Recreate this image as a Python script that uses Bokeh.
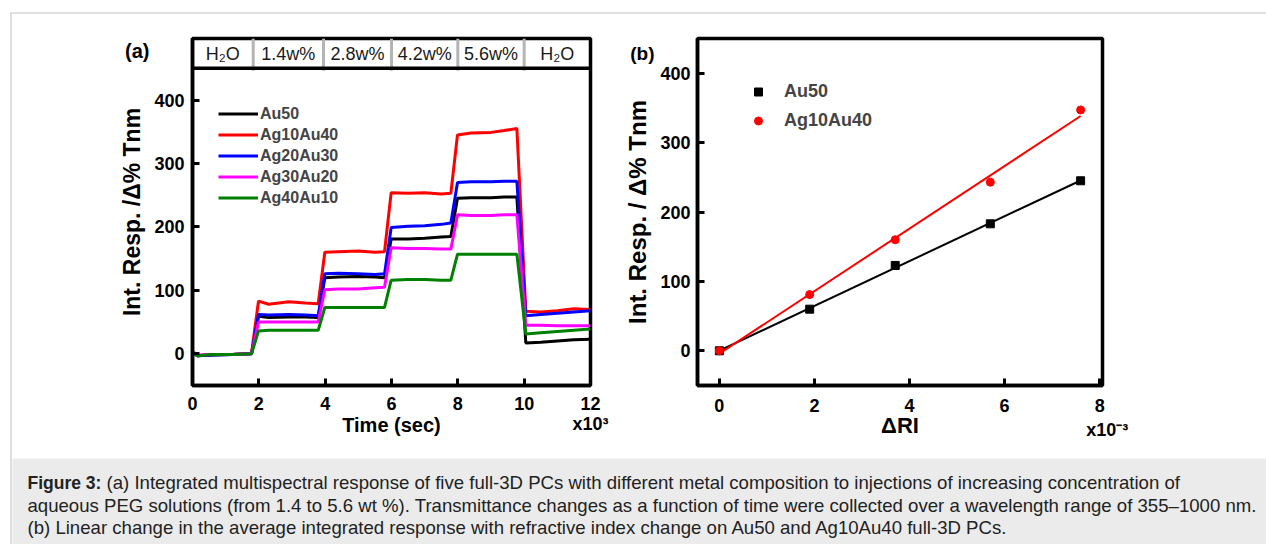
import numpy as np
from bokeh.plotting import figure
from bokeh.models import (Range1d, Label, Legend, LegendItem, FixedTicker, Div, Spacer, Span,
                          LinearAxis)
from bokeh.layouts import row, column
from bokeh.embed import file_html
from bokeh.resources import INLINE
from bokeh.core.properties import value

FONT = "Liberation Sans"
NB = "\u00a0"

# ---------------- Panel (a) data ----------------
time_s = [0, 150, 600, 1200, 1780, 1990, 2300, 2900, 3400, 3790, 3990, 4400, 5000, 5500,
          5790, 5990, 6500, 7000, 7500, 7790, 7990, 8400, 9000, 9400, 9780, 10050, 10500,
          11000, 11500, 12000]
au50 = [3, -3, -2, -1, 0, 59, 57, 58, 58, 57, 120, 121, 122, 121, 120, 181, 181, 182, 184, 185,
        245, 246, 246, 247, 247, 17, 18, 20, 22, 23]
ag10au40 = [4, -3, -1, -1, 1, 83, 78, 82, 80, 79, 160, 161, 162, 160, 161, 254, 253, 254, 252, 253,
            345, 348, 349, 352, 355, 67, 66, 68, 71, 70]
ag20au30 = [2, -3, -2, -1, 0, 62, 61, 62, 61, 60, 126, 127, 126, 125, 126, 199, 201, 202, 204, 206,
            270, 271, 271, 272, 272, 60, 62, 64, 66, 68]
ag30au20 = [3, -2, -1, -1, 0, 50, 50, 50, 50, 50, 101, 102, 102, 104, 105, 167, 166, 166, 165, 165,
            219, 218, 218, 219, 219, 45, 45, 44, 44, 44]
ag40au10 = [3, -3, -1, -1, 0, 36, 37, 37, 37, 37, 73, 73, 73, 73, 73, 116, 117, 117, 116, 116,
            157, 157, 157, 157, 157, 31, 33, 35, 37, 39]

series_names = ["Au50", "Ag10Au40", "Ag20Au30", "Ag30Au20", "Ag40Au10"]
series_values = [au50, ag10au40, ag20au30, ag30au20, ag40au10]
series_colors = ["#000000", "#ff0000", "#0000ff", "#ff00ff", "#008000"]

bar_edges = [0, 1830, 3950, 6000, 8000, 10000, 12000]
bar_labels = ["H\u2082O", "1.4w%", "2.8w%", "4.2w%", "5.6w%", "H\u2082O"]

x_ticks_a = [0, 2000, 4000, 6000, 8000, 10000, 12000]
x_tick_labels_a = ["0", "2", "4", "6", "8", "10", "12\nx10\u00b3"]
y_ticks = [0, 100, 200, 300, 400]

# ---------------- Panel (b) data ----------------
delta_ri = [0, 1.9, 3.7, 5.7, 7.6]
resp_au50 = [0, 60, 123, 183, 245]
resp_ag10au40 = [0, 81, 160, 243, 347]
x_ticks_b = [0, 2, 4, 6, 8]
x_tick_labels_b = ["0", "2", "4", "6", "8\n" + NB * 3 + "x10\u207b\u00b3"]

caption_bold = "Figure 3:"
caption_lines = [
    "(a) Integrated multispectral response of five full-3D PCs with different metal composition to injections of increasing concentration of",
    "aqueous PEG solutions (from 1.4 to 5.6 wt %). Transmittance changes as a function of time were collected over a wavelength range of 355\u20131000 nm.",
    "(b) Linear change in the average integrated response with refractive index change on Au50 and Ag10Au40 full-3D PCs.",
]


def style_axis(ax, label_size="18px"):
    ax.axis_line_width = 3.5
    ax.axis_line_color = "black"
    ax.major_tick_in = 7
    ax.major_tick_out = 0
    ax.minor_tick_in = 0
    ax.minor_tick_out = 0
    ax.major_tick_line_width = 3
    ax.major_label_text_font = FONT
    ax.major_label_text_font_style = "bold"
    ax.major_label_text_font_size = label_size
    ax.major_label_text_color = "black"
    ax.axis_label_text_font = FONT
    ax.axis_label_text_font_style = "bold"
    ax.axis_label_text_color = "black"


def style(p):
    p.outline_line_color = "black"
    p.outline_line_width = 3.5
    p.xgrid.visible = False
    p.ygrid.visible = False
    for ax in list(p.xaxis) + list(p.yaxis):
        style_axis(ax)


def panel_tag(p, y_pos, tag, size, standoff):
    """Panel letter drawn as the only tick label of an extra, bare left axis."""
    ax = LinearAxis(ticker=FixedTicker(ticks=[y_pos]), major_label_overrides={y_pos: tag})
    ax.axis_line_color = None
    ax.major_tick_line_color = None
    ax.minor_tick_line_color = None
    ax.major_label_text_font = FONT
    ax.major_label_text_font_style = "bold"
    ax.major_label_text_font_size = size
    ax.major_label_text_color = "black"
    ax.major_label_standoff = standoff
    p.add_layout(ax, "left")


# ---------------- Figure (a) ----------------
p_a = figure(width=608, height=444, x_range=Range1d(0, 12000), y_range=Range1d(-50, 497),
             output_backend="svg", toolbar_location=None, title=None,
             min_border_left=180, min_border_right=30, min_border_top=21, min_border_bottom=73)
style(p_a)
p_a.xaxis.ticker = FixedTicker(ticks=x_ticks_a)
p_a.xaxis.major_label_overrides = dict(zip(x_ticks_a, x_tick_labels_a))
p_a.xaxis.major_label_text_line_height = 1.0
p_a.yaxis.ticker = FixedTicker(ticks=y_ticks)
p_a.xaxis.axis_label = "Time (sec)"
p_a.xaxis.axis_label_text_font_size = "20px"
p_a.yaxis.axis_label = "Int. Resp. /\u0394% Tnm"
p_a.yaxis.axis_label_text_font_size = "23px"
p_a.xaxis.major_label_standoff = 8
p_a.yaxis.major_label_standoff = 8
p_a.xaxis.axis_label_standoff = -23
p_a.yaxis.axis_label_standoff = 6

items = []
for name, vals, col in zip(series_names, series_values, series_colors):
    r = p_a.line(time_s, vals, line_color=col, line_width=3)
    items.append(LegendItem(label=name, renderers=[r]))

# composition bar on top of panel (a)
p_a.add_layout(Span(location=450, dimension="width", line_color="black", line_width=3.5))
p_a.segment(x0=bar_edges[1:-1], y0=[446] * 5, x1=bar_edges[1:-1], y1=[497] * 5,
            line_color="#b4b4b4", line_width=3)
mids = [(a + b) / 2 for a, b in zip(bar_edges[:-1], bar_edges[1:])]
p_a.text(x=mids, y=[473] * len(mids), text=bar_labels, text_align="center",
         text_baseline="middle", text_font=value(FONT), text_font_size="18px",
         text_color="#1a1a1a")

leg_a = Legend(items=items, location=(26, 177), glyph_width=40, glyph_height=21,
               label_height=21, label_standoff=2, spacing=0, padding=0, margin=0,
               background_fill_alpha=0, border_line_color=None,
               label_text_font=FONT, label_text_font_style="bold", label_text_font_size="16px")
p_a.add_layout(leg_a)
panel_tag(p_a, 478, "(a)", "20px", -39)

# ---------------- Figure (b) ----------------
p_b = figure(width=646, height=444, x_range=Range1d(-0.46, 8.06), y_range=Range1d(-50, 450),
             output_backend="svg", toolbar_location=None, title=None,
             min_border_left=77, min_border_right=164, min_border_top=24, min_border_bottom=72)
style(p_b)
p_b.xaxis.ticker = FixedTicker(ticks=x_ticks_b)
p_b.xaxis.major_label_overrides = dict(zip(x_ticks_b, x_tick_labels_b))
p_b.xaxis.major_label_text_line_height = 1.22
p_b.yaxis.ticker = FixedTicker(ticks=y_ticks)
p_b.xaxis.axis_label = "\u0394RI"
p_b.xaxis.axis_label_text_font_size = "22px"
p_b.yaxis.axis_label = "Int. Resp. / \u0394% Tnm"
p_b.yaxis.axis_label_text_font_size = "24px"
p_b.xaxis.major_label_standoff = 10
p_b.yaxis.major_label_standoff = 7
p_b.xaxis.axis_label_standoff = -30
p_b.yaxis.axis_label_standoff = 6

xs = np.array(delta_ri, dtype=float)
fit_black = np.polyfit(xs, np.array(resp_au50, dtype=float), 1)
fit_red = np.polyfit(xs, np.array(resp_ag10au40, dtype=float), 1)
fx = np.array([xs.min(), xs.max()])
p_b.line(fx, np.polyval(fit_black, fx), line_color="black", line_width=2)
p_b.line(fx, np.polyval(fit_red, fx), line_color="#ff0000", line_width=2)
r_sq = p_b.scatter(delta_ri, resp_au50, marker="square", size=8, fill_color="black",
                   line_color="black")
r_ci = p_b.scatter(delta_ri, resp_ag10au40, marker="circle", size=8, fill_color="#ff0000",
                   line_color="#ff0000")

leg_b = Legend(items=[LegendItem(label="Au50", renderers=[r_sq]),
                      LegendItem(label="Ag10Au40", renderers=[r_ci])],
               location=(51, 250), glyph_width=20, glyph_height=29, label_height=29,
               label_standoff=16, spacing=0, padding=0, margin=0,
               background_fill_alpha=0, border_line_color=None,
               label_text_font=FONT, label_text_font_style="bold", label_text_font_size="18px")
p_b.add_layout(leg_b)
panel_tag(p_b, 428, "(b)", "19px", -39)

# ---------------- Caption ----------------
cap = figure(width=1254, height=86, x_range=Range1d(0, 1254), y_range=Range1d(86, 0),
             output_backend="svg", toolbar_location=None, title=None, min_border=0,
             x_axis_location=None, y_axis_location=None)
cap.xgrid.visible = False
cap.ygrid.visible = False
cap.outline_line_color = None
cap.background_fill_color = "#ebebeb"
cap.border_fill_color = "#ebebeb"
baselines = [24, 47, 69]
cap.add_layout(Label(x=15, y=baselines[0], text=caption_bold, text_font=FONT,
                     text_font_style="bold", text_font_size="17.5px", text_color="#222222",
                     text_baseline="alphabetic"))
for i, (line, yb) in enumerate(zip(caption_lines, baselines)):
    cap.add_layout(Label(x=94 if i == 0 else 15, y=yb, text=line, text_font=FONT,
                         text_font_size="18.6px", text_color="#222222",
                         text_baseline="alphabetic"))

# ---------------- Layout with light frame lines ----------------
top_line = Div(text="", width=1256, height=2, margin=0, styles={"background-color": "#dedede"})
left_line = Div(text="", width=2, height=530, margin=0, styles={"background-color": "#dedede"})
content = column(row(p_a, p_b), cap)
root = column(Spacer(width=1266, height=12),
              row(Spacer(width=10, height=532), column(top_line, row(left_line, content))))

open("out.html", "w").write(file_html(root, INLINE))
